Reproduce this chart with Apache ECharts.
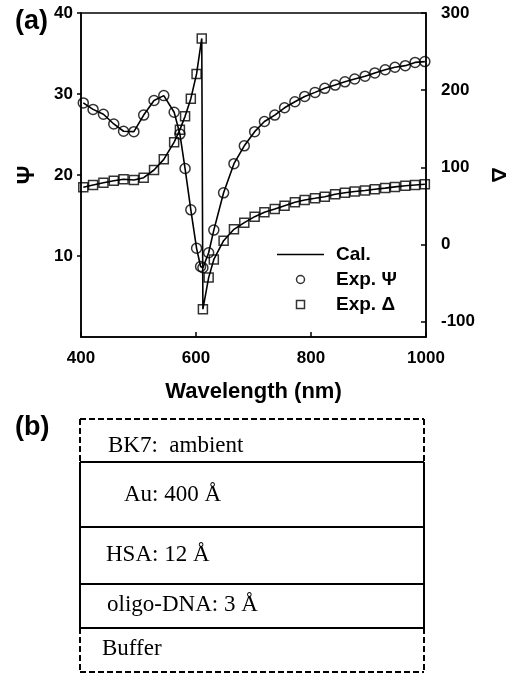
<!DOCTYPE html>
<html>
<head>
<meta charset="utf-8">
<script src="https://cdn.jsdelivr.net/npm/echarts@6/dist/echarts.min.js"></script>
<style>
  html, body { margin: 0; padding: 0; background: #fff; }
  #chart { width: 520px; height: 677px; }
</style>
</head>
<body>
<div id="chart"></div>
<script>
// ---- Data ----
const wavelengthPsi = [404,421,439,457,474,492,509,527,544,562,572,581,591,601,608,612,622,631,648,666,684,702,719,737,754,772,789,807,824,842,859,876,894,911,929,946,964,981,998];
const psiValues = [28.9,28.1,27.5,26.3,25.4,25.35,27.4,29.2,29.8,27.75,25.05,20.8,15.7,10.95,8.7,8.55,10.4,13.2,17.8,21.4,23.6,25.35,26.6,27.4,28.3,29.05,29.7,30.2,30.7,31.1,31.5,31.85,32.2,32.6,33.0,33.3,33.5,33.9,34.0];
const wavelengthDelta = [404,421,439,457,474,492,509,527,544,562,572,581,591,601,610,612,622,631,648,666,684,702,719,737,754,772,789,807,824,842,859,876,894,911,929,946,964,981,998];
const deltaValues = [74,77,80,82.6,84.4,83.5,86.5,96.5,110.3,132.6,148.8,166,189,221,267,-84,-43,-19.5,4.8,19.6,28.2,36,41.6,45.9,50.2,54.6,57.6,59.8,61.9,65,67,68.6,70,71.5,73,74.6,76,77,78];
const xTicks = [400, 600, 800, 1000];
const psiTicks = [10, 20, 30, 40];
const deltaTicks = [-100, 0, 100, 200, 300];
const legendNames = ['Cal.', 'Exp. Ψ', 'Exp. Δ'];
const layerNames = ['BK7:  ambient', 'Au: 400 Å', 'HSA: 12 Å', 'oligo-DNA: 3 Å', 'Buffer'];

const psiPairs = wavelengthPsi.map((w, i) => [w, psiValues[i]]);
const deltaPairs = wavelengthDelta.map((w, i) => [w, deltaValues[i]]);

const SANS = 'Liberation Sans, Arial, sans-serif';
const SERIF = 'Liberation Serif, Times New Roman, serif';

// ---- Layer diagram (panel b) ----
const boxL = 80, boxR = 424;
const layerBounds = [419, 462, 527, 584, 628, 672];
const layerTextX = [108, 124, 106, 107, 102];
const layerTextY = [446, 495, 555, 605, 649];
const graphics = [];
function line(x1, y1, x2, y2, dashed) {
  graphics.push({
    type: 'line',
    shape: { x1, y1, x2, y2 },
    style: { stroke: '#000', lineWidth: 2, lineDash: dashed ? [6, 3] : null }
  });
}
line(boxL, layerBounds[0], boxR, layerBounds[0], true);
line(boxL, layerBounds[0], boxL, layerBounds[1], true);
line(boxR, layerBounds[0], boxR, layerBounds[1], true);
line(boxL, layerBounds[4], boxL, layerBounds[5], true);
line(boxR, layerBounds[4], boxR, layerBounds[5], true);
line(boxL, layerBounds[5], boxR, layerBounds[5], true);
for (let i = 1; i <= 4; i++) line(boxL, layerBounds[i], boxR, layerBounds[i], false);
line(boxL, layerBounds[1], boxL, layerBounds[4], false);
line(boxR, layerBounds[1], boxR, layerBounds[4], false);
layerNames.forEach((t, i) => {
  graphics.push({
    type: 'text',
    x: layerTextX[i], y: layerTextY[i],
    style: { text: t, font: '23px ' + SERIF, fill: '#000', verticalAlign: 'middle', align: 'left' }
  });
});
graphics.push({ type: 'text', x: 15, y: 22, style: { text: '(a)', font: 'bold 27px ' + SANS, fill: '#000', verticalAlign: 'middle' } });
graphics.push({ type: 'text', x: 15, y: 428, style: { text: '(b)', font: 'bold 27px ' + SANS, fill: '#000', verticalAlign: 'middle' } });

const chart = echarts.init(document.getElementById('chart'), null, { renderer: 'canvas' });
const axisLine = { show: true, lineStyle: { color: '#000', width: 1.5 } };
const labelStyle = { color: '#000', fontFamily: SANS, fontWeight: 'bold', fontSize: 17, formatter: v => String(v) };
const hollow = { color: 'rgba(0,0,0,0)', borderColor: '#000', borderWidth: 1.5 };

chart.setOption({
  backgroundColor: '#fff',
  animation: false,
  grid: { left: 81, top: 13, width: 345, height: 324, show: true, borderColor: '#000', borderWidth: 1.5, backgroundColor: 'transparent' },
  xAxis: {
    type: 'value', min: 400, max: 1000, interval: 200,
    name: 'Wavelength (nm)', nameLocation: 'middle', nameGap: 44,
    nameTextStyle: { color: '#000', fontFamily: SANS, fontWeight: 'bold', fontSize: 22 },
    axisLine: axisLine,
    axisTick: { show: true, inside: true, length: 5, lineStyle: { color: '#000', width: 1.5 }, customValues: xTicks },
    axisLabel: Object.assign({ margin: 13, customValues: xTicks }, labelStyle),
    splitLine: { show: false }
  },
  yAxis: [
    {
      type: 'value', min: 0, max: 40, position: 'left',
      name: 'Ψ', nameLocation: 'middle', nameRotate: 90, nameGap: 42,
      nameTextStyle: { color: '#000', fontFamily: SANS, fontWeight: 'bold', fontSize: 23 },
      axisLine: axisLine,
      axisTick: { show: true, inside: false, length: 4, lineStyle: { color: '#000', width: 1.5 }, customValues: psiTicks },
      axisLabel: Object.assign({ margin: 8, customValues: psiTicks }, labelStyle),
      splitLine: { show: false }
    },
    {
      type: 'value', min: -120, max: 300, position: 'right',
      name: 'Δ', nameLocation: 'middle', nameRotate: -90, nameGap: 61,
      nameTextStyle: { color: '#000', fontFamily: SANS, fontWeight: 'bold', fontSize: 21 },
      axisLine: axisLine,
      axisTick: { show: true, inside: true, length: 5, lineStyle: { color: '#000', width: 1.5 }, customValues: deltaTicks },
      axisLabel: Object.assign({ margin: 15, customValues: deltaTicks }, labelStyle),
      splitLine: { show: false }
    }
  ],
  legend: {
    orient: 'vertical', left: 272, top: 240, itemGap: 6,
    itemWidth: 47, itemHeight: 8,
    textStyle: { color: '#000', fontFamily: SANS, fontWeight: 'bold', fontSize: 19, padding: [0, 0, 0, 7] },
    data: [
      { name: legendNames[0], icon: 'path://M0,0L47,0L47,1.6L0,1.6Z', itemStyle: { color: '#000', borderWidth: 0 } },
      { name: legendNames[1], icon: 'circle', itemStyle: hollow },
      { name: legendNames[2], icon: 'path://M0,0L10,0L10,10L0,10Z', itemStyle: hollow }
    ]
  },
  series: [
    { name: legendNames[0], type: 'line', yAxisIndex: 0, data: psiPairs, symbol: 'none', lineStyle: { color: '#000', width: 1.6 }, itemStyle: { color: '#000' }, z: 2 },
    { name: legendNames[0], type: 'line', yAxisIndex: 1, data: deltaPairs, symbol: 'none', lineStyle: { color: '#000', width: 1.6 }, itemStyle: { color: '#000' }, z: 2 },
    { name: legendNames[1], type: 'scatter', yAxisIndex: 0, data: psiPairs, symbol: 'circle', symbolSize: 10, itemStyle: hollow, z: 3 },
    { name: legendNames[2], type: 'scatter', yAxisIndex: 1, data: deltaPairs, symbol: 'rect', symbolSize: 9, itemStyle: hollow, z: 3 }
  ],
  graphic: graphics
});
</script>
</body>
</html>
